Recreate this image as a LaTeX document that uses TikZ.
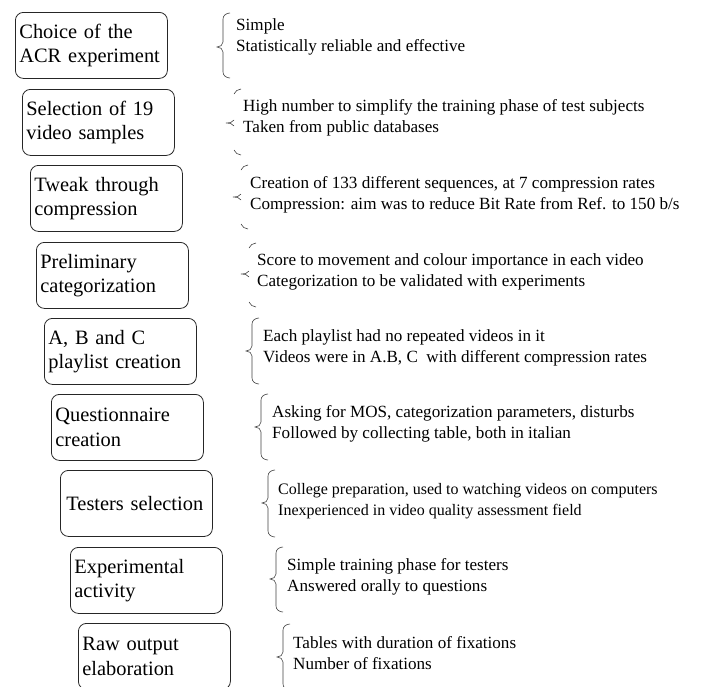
\documentclass[tikz,border=0pt]{standalone}
\usepackage{fontspec}
\setmainfont{Liberation Serif}
\tikzset{
  stepbox/.style={draw=black!85, line width=0.8pt, rounded corners=8pt, minimum width=152pt, minimum height=66pt,
    text width=144pt, inner xsep=4pt, inner ysep=0pt, align=left, anchor=north west,
    font=\fontsize{20.4}{24.5}\selectfont},
  note/.style={anchor=west, inner sep=0pt, align=left, font=\fontsize{17.1}{20.5}\selectfont},
  brc/.style={draw=black!75, line width=0.6pt}
}
\newcommand\fullbrace[4]{%
  \draw[brc] (#1+7,-#2) to[out=180,in=90] (#1,-#2-6) -- (#1,-#3+5) to[out=-90,in=0] (#1-6,-#3)
     to[out=0,in=90] (#1,-#3-5) -- (#1,-#4+6) to[out=-90,in=180] (#1+7,-#4);}
\newcommand\partbrace[4]{%
  \draw[brc] (#1+8,-#2) to[out=190,in=70] (#1+1,-#2-5);
  \draw[brc] (#1+1,-#3+3) to[out=-120,in=0] (#1-7,-#3) to[out=0,in=120] (#1+1,-#3-3);
  \draw[brc] (#1+1,-#4+5) to[out=-70,in=170] (#1+8,-#4);}
\begin{document}
\begin{tikzpicture}[x=1pt,y=1pt]
\useasboundingbox (0,0) rectangle (703,-686);
\clip (0,0) rectangle (703,-686);
% boxes
\node[stepbox] (b1) at (15,-12)  {Choice of the\\ACR experiment};
\node[stepbox] (b2) at (22,-89)  {Selection of 19\\video samples};
\node[stepbox] (b3) at (30,-165) {Tweak through\\compression};
\node[stepbox] (b4) at (36,-242) {Preliminary\\categorization};
\node[stepbox] (b5) at (44,-318) {A, B and C\\playlist creation};
\node[stepbox] (b6) at (51,-394) {Questionnaire\\creation};
\node[stepbox] (b7) at (60,-470) {\hspace*{2pt}Testers selection};
\node[stepbox] (b8) at (70,-547) {Experimental\\activity};
\node[stepbox] (b9) at (78,-623) {Raw output\\elaboration};
% braces
\fullbrace{223}{13}{47}{78}
\partbrace{233}{89}{123}{155}
\partbrace{240}{165}{197}{229}
\partbrace{248}{243}{274}{307}
\fullbrace{252}{318}{351}{384}
\fullbrace{261}{394}{427}{460}
\fullbrace{268}{470}{503}{537}
\fullbrace{276}{547}{579}{612}
\fullbrace{283}{624}{657}{690}
% notes
\node[note] (n1) at (236,-37)  {Simple\\Statistically reliable and effective};
\node[note] (n2) at (243,-118) {High number to simplify the training phase of test subjects\\Taken from public databases};
\node[note] (n3) at (250,-195) {Creation of 133 different sequences, at 7 compression rates\\Compression: aim was to reduce Bit Rate from Ref. to 150 b/s};
\node[note] (n4) at (257,-272) {Score to movement and colour importance in each video\\Categorization to be validated with experiments};
\node[note] (n5) at (263,-348) {Each playlist had no repeated videos in it\\Videos were in A.B, C\ \ with different compression rates};
\node[note] (n6) at (272,-424) {Asking for MOS, categorization parameters, disturbs\\Followed by collecting table, both in italian};
\node[note, font=\fontsize{16}{20.5}\selectfont] (n7) at (278,-501) {College preparation, used to watching videos on computers\\Inexperienced in video quality assessment field};
\node[note] (n8) at (287,-577) {Simple training phase for testers\\Answered orally to questions};
\node[note] (n9) at (293,-653) {Tables with duration of fixations\\Number of fixations};
\end{tikzpicture}
\end{document}
